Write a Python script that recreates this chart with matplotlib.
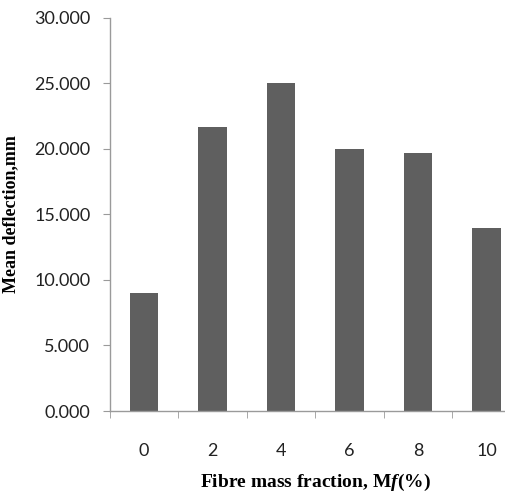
import numpy as np
import matplotlib
matplotlib.use("Agg")
import matplotlib.pyplot as plt

categories = ["0", "2", "4", "6", "8", "10"]
deflection = [9.0, 21.65, 25.05, 20.0, 19.65, 14.0]
yticks = [0, 5, 10, 15, 20, 25, 30]

plt.rcParams["mathtext.fontset"] = "custom"
plt.rcParams["mathtext.it"] = "Liberation Serif:italic:bold"
plt.rcParams["mathtext.rm"] = "Liberation Serif:bold"

fig = plt.figure(figsize=(5.06, 4.94), dpi=100)
ax = fig.add_axes([0.217, 0.168, 0.812, 0.796])

x = np.arange(len(categories))
ax.bar(x, deflection, width=0.42, color="#5f5f5f", zorder=2)

ax.set_xlim(-0.5, len(categories) - 0.5)
ax.set_ylim(0, 30)
ax.set_yticks(yticks)
ax.set_yticklabels([f"{v:.3f}" for v in yticks])
ax.set_xticks(x)
ax.set_xticklabels(categories)
ax.set_xticks(np.arange(len(categories) + 1) - 0.5, minor=True)

for side in ["top", "right"]:
    ax.spines[side].set_visible(False)
for side in ["left", "bottom"]:
    ax.spines[side].set_color("#9a9a9a")
    ax.spines[side].set_linewidth(1.0)

ax.tick_params(axis="y", direction="out", length=5, color="#9a9a9a", pad=9,
               labelsize=13, labelcolor="#222222")
ax.tick_params(axis="x", which="major", length=0, pad=23, labelsize=13,
               labelcolor="#222222")
ax.tick_params(axis="x", which="minor", direction="out", length=5, color="#9a9a9a")
for lbl in ax.get_xticklabels() + ax.get_yticklabels():
    lbl.set_fontfamily("Lato")

ax.set_ylabel("Mean deflection,mm", fontfamily="Liberation Serif", fontweight="bold",
              fontsize=13, labelpad=11)
ax.set_xlabel(r"Fibre mass fraction, M$\mathit{f}$(%)", fontfamily="Liberation Serif",
              fontweight="bold", fontsize=14, labelpad=9)

fig.savefig("out.png", dpi=100)
